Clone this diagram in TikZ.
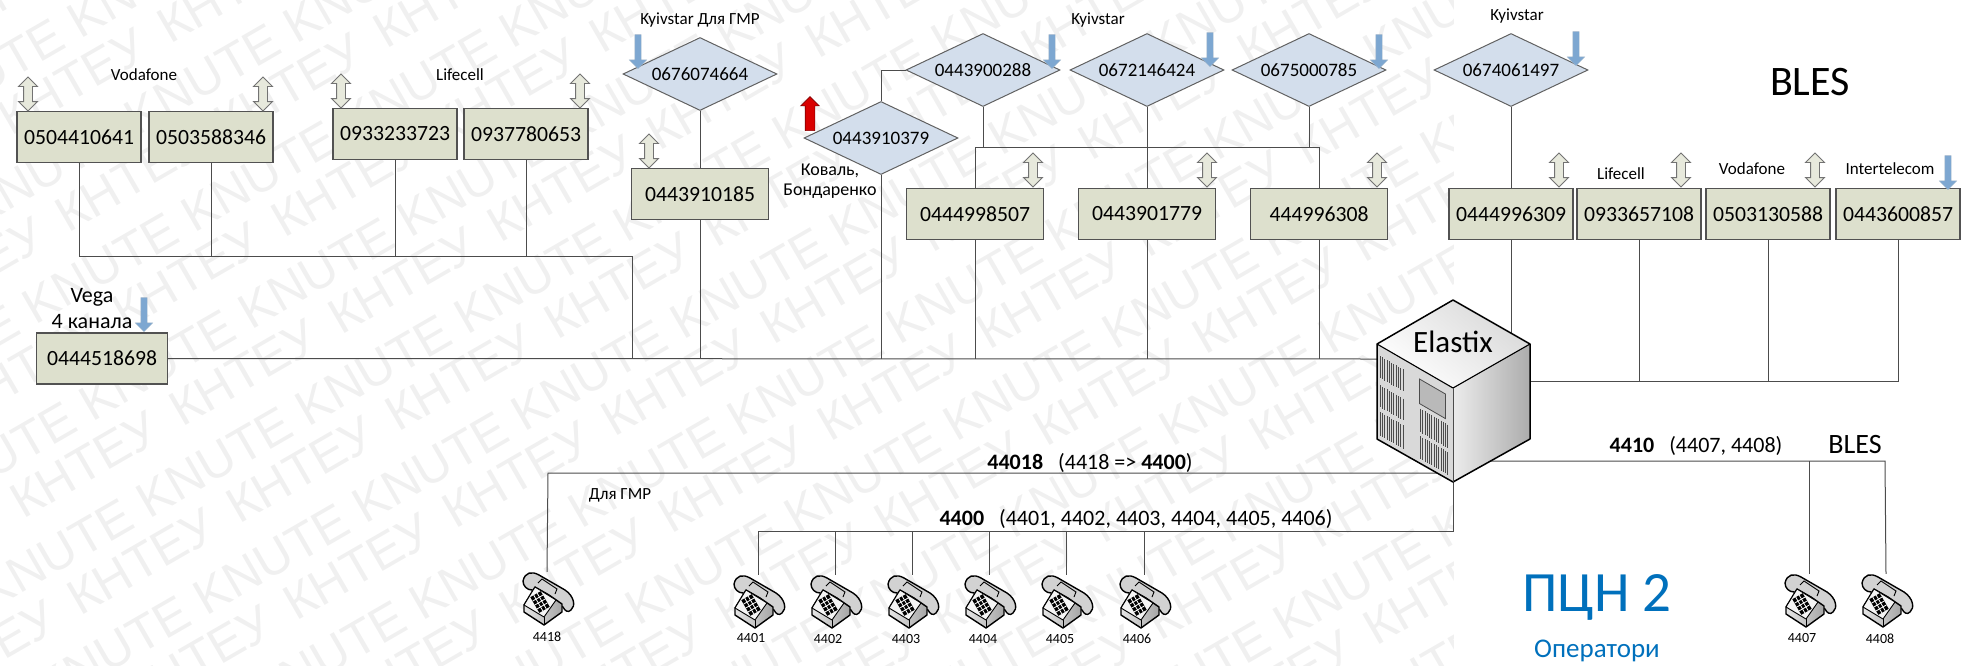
\documentclass[tikz,border=0pt]{standalone}
\usepackage{fontspec}
\setmainfont{Carlito}
\newfontfamily\wmfont{Liberation Sans}
\usetikzlibrary{shapes.geometric, shapes.arrows}
\definecolor{box_colour}{RGB}{221, 224, 205}
\definecolor{dia_colour}{RGB}{211, 222, 236}
\definecolor{down_colour}{RGB}{125, 167, 209}
\definecolor{pcn_colour}{RGB}{0, 112, 188}

\tikzset{
  phone/.pic={
    \draw[fill=gray!35, line width=1.4pt, line join=round] (-24,-17) .. controls (-22,-26) and (-15,-27) .. (-8,-23)
      -- (18,-8) .. controls (27,-2) and (29,8) .. (24,12) .. controls (21,15) and (18,13) .. (16,9)
      -- (-15,-8) .. controls (-20,-8) and (-24,-12) .. (-24,-17) -- cycle;
    \shade[left color=gray!20, right color=gray!70] (-3,27) -- (15,14) -- (15,6) -- (2,-3) -- (-23,7) -- (-23,14) -- cycle;
    \draw[line width=1.4pt, line join=round] (-12,-11) -- (-23,7) -- (-23,14) -- (-3,27) -- (15,14) -- (15,6) -- (2,-3) -- cycle;
    \draw[fill=gray!8, line width=.9pt, line join=round] (-12,-11) -- (-23,7) -- (-3,19) -- (9,2) -- cycle;
    \draw[line width=.7pt] (-3,19) -- (-3,27);
    \begin{scope}[shift={(-7,4)}, rotate=-60]
      \fill[black] (-9,-6) rectangle (9,6);
      \foreach \k in {-4.5,0,4.5} \draw[white, line width=.8pt] (\k,-6) -- (\k,6);
      \foreach \k in {-2,2} \draw[white, line width=.8pt] (-9,\k) -- (9,\k);
    \end{scope}
    \draw[line width=.9pt] (-9,-15) -- (-5,-19) -- (10,-9) -- (8,-4);
  }
}

\begin{document}
\begin{tikzpicture}[
    x=1pt, y=-1pt,
    every node/.style={font=\fontsize{17}{20}\selectfont, inner sep=0pt},
    box/.style={draw=black!68, line width=1.3pt, fill=box_colour,
                minimum width=124pt, minimum height=51pt,
                font=\fontsize{21.7}{24}\selectfont},
    dia/.style={diamond, draw=black!62, line width=1pt, fill=dia_colour,
                shape aspect=2.1, minimum width=154pt, minimum height=73pt,
                font=\fontsize{19}{21}\selectfont},
    bothway/.style={double arrow, draw=black!55, line width=.9pt, fill=box_colour!70,
                minimum height=34pt, inner sep=4pt, shape border rotate=90,
                double arrow head extend=5pt},
    downarr/.style={single arrow, fill=down_colour, draw=down_colour!80!black!60,
                minimum height=34pt, inner sep=3pt, shape border rotate=270,
                single arrow head extend=5.5pt},
    uparr/.style={single arrow, fill=red!85!black, draw=red!50!black, line width=.6pt,
                minimum height=34pt, inner sep=4.5pt, shape border rotate=90,
                single arrow head extend=4.5pt},
    wire/.style={draw=black!70, line width=1pt},
    big/.style={font=\fontsize{22}{24}\selectfont},
    ext/.style={font=\fontsize{14}{16}\selectfont},
    phonepos/.style={minimum size=52pt},
    wmark/.style={font=\wmfont\fontsize{50}{60}\selectfont, text=black!6, rotate=30, anchor=west},
]
\useasboundingbox (0,0) rectangle (1966,665);

% watermark stops at the cube's middle
\begin{scope}
\clip (0,0) rectangle (1453,665);
\foreach \i in {-5,...,8} \foreach \j in {-6,...,5} {
  \pgfmathsetmacro\wx{141+216*\i+57*\j}
  \pgfmathsetmacro\wy{505+5*\i+97*\j}
  \pgfmathparse{and(and(\wx>-170,\wx<1453),and(\wy>-10,\wy<755))?1:0}
  \ifnum\pgfmathresult=1
    \node[wmark] (wa\i\j) at (\wx,\wy) {KNUTE};
  \fi
  \pgfmathsetmacro\wx{15+216*\i+57*\j}
  \pgfmathparse{and(and(\wx>-170,\wx<1453),and(\wy>-10,\wy<755))?1:0}
  \ifnum\pgfmathresult=1
    \node[wmark] (wb\i\j) at (\wx,\wy) {КНТЕУ};
  \fi
}
\end{scope}

% cube corners and junctions
\coordinate (cubeT) at (1453,300);
\coordinate (cubeL) at (1377,344);
\coordinate (cubeR) at (1530,344);
\coordinate (cubeC) at (1453,388);
\coordinate (cubeB) at (1453,482);
\coordinate (cubeLB) at (1377,439);
\coordinate (cubeRB) at (1530,439);
\coordinate (mainend) at (1380,359);
\coordinate (busup) at (632,256);
\coordinate (busky) at (975,147);
\coordinate (buslow) at (1450,473);
\coordinate (busgmr) at (548,473);
\coordinate (busops) at (1453,531);
\coordinate (busles) at (1885,461);
\coordinate (busright) at (1898,381);

\node[box] (n0504) at (79,137) {0504410641};
\node[box] (n0503) at (211,137) {0503588346};
\node[box] (n0933a) at (395,134) {0933233723};
\node[box] (n0937) at (526,134) {0937780653};
\node[box, minimum width=131pt] (n0444v) at (102,358.5) {0444518698};
\node[box, minimum width=137pt] (n0185) at (700,194) {0443910185};
\node[box, minimum width=137pt] (n8507) at (975,214) {0444998507};
\node[box, minimum width=137pt] (n1779) at (1147,214) {0443901779};
\node[box, minimum width=137pt] (n6308) at (1319,214) {444996308};
\node[box] (n6309) at (1511,214) {0444996309};
\node[box] (n7108) at (1639,214) {0933657108};
\node[box] (n0588) at (1768,214) {0503130588};
\node[box] (n0857) at (1898,214) {0443600857};

\node[dia] (d4664) at (700,74) {0676074664};
\node[dia] (d0288) at (983,70) {0443900288};
\node[dia] (d6424) at (1147,70) {0672146424};
\node[dia] (d0785) at (1309,70) {0675000785};
\node[dia] (d1497) at (1511,70) {0674061497};
\node[dia] (d0379) at (881,138) {0443910379};

\node[phonepos] (p4418) at (547,598) {};
\node[phonepos] (p4401) at (758,601) {};
\node[phonepos] (p4402) at (835,601) {};
\node[phonepos] (p4403) at (912,601) {};
\node[phonepos] (p4404) at (989,601) {};
\node[phonepos] (p4405) at (1066,601) {};
\node[phonepos] (p4406) at (1144,601) {};
\node[phonepos] (p4407) at (1809,600) {};
\node[phonepos] (p4408) at (1886,600) {};

\draw[wire] (n0444v) -- (mainend);
\draw[wire] (n0504.south) |- (busup) -- (busup |- mainend);
\draw[wire] (n0503.south) -- (n0503.south |- busup);
\draw[wire] (n0933a.south) -- (n0933a.south |- busup);
\draw[wire] (n0937.south) -- (n0937.south |- busup);
\draw[wire] (d4664) -- (n0185);
\draw[wire] (n0185) -- (n0185 |- mainend);
\draw[wire] (d0288.west) -| (d0379.north);
\draw[wire] (d0379.south) -- (d0379.south |- mainend);
\draw[wire] (d0288.south) -- (d0288.south |- busky);
\draw[wire] (n8507.north) |- (busky) -- (n6308.north |- busky) -- (n6308.north);
\draw[wire] (d6424) -- (n1779);
\draw[wire] (d0785.south) -- (d0785.south |- busky);
\draw[wire] (n8507) -- (n8507 |- mainend);
\draw[wire] (n1779) -- (n1779 |- mainend);
\draw[wire] (n6308) -- (n6308 |- mainend);
\draw[wire] (d1497) -- (n6309);
\draw[wire] (n6309.south) -- (cubeC -| n6309.south);
\draw[wire] (n0857.south) |- (cubeC |- busright);
\draw[wire] (n7108.south) -- (n7108.south |- busright);
\draw[wire] (n0588.south) -- (n0588.south |- busright);
\draw[wire] (buslow) -- (busgmr) -- (p4418.north);
\draw[wire] (cubeB) -- (busops) -- (p4401.north |- busops) -- (p4401.north);
\draw[wire] (p4402.north) -- (p4402.north |- busops);
\draw[wire] (p4403.north) -- (p4403.north |- busops);
\draw[wire] (p4404.north) -- (p4404.north |- busops);
\draw[wire] (p4405.north) -- (p4405.north |- busops);
\draw[wire] (p4406.north) -- (p4406.north |- busops);
\draw[wire] (cubeB |- busles) -- (busles) -- (p4408.north);
\draw[wire] (p4407.north) -- (p4407.north |- busles);

% server
\shade[top color=gray!30, bottom color=white, shading angle=-40] (cubeT) -- (cubeR) -- (cubeC) -- (cubeL) -- cycle;
\fill[gray!30] (cubeL) -- (cubeC) -- (cubeB) -- (cubeLB) -- cycle;
\shade[left color=gray!15, right color=gray!65] (cubeC) -- (cubeR) -- (cubeRB) -- (cubeB) -- cycle;
\begin{scope}[shift={(cubeL)}, x={(76pt,-44pt)}, y={(0pt,-94.5pt)}]
  \foreach \u in {.04,.07,...,.37} {
    \draw[black!70, line width=.7pt] (\u,.11) -- (\u,.34);
    \draw[black!70, line width=.7pt] (\u,.42) -- (\u,.65);
    \draw[black!70, line width=.7pt] (\u,.70) -- (\u,.95);
  }
  \foreach \u in {.57,.60,...,.93} {
    \draw[black!70, line width=.7pt] (\u,.42) -- (\u,.67);
    \draw[black!70, line width=.7pt] (\u,.71) -- (\u,.95);
  }
  \draw[fill=gray!55, draw=black!70, line width=.8pt] (.56,.11) -- (.9,.11) -- (.9,.37) -- (.56,.37) -- cycle;
\end{scope}
\draw[line width=1.5pt, line join=round] (cubeT) -- (cubeR) -- (cubeRB) -- (cubeB) -- (cubeLB) -- (cubeL) -- cycle;
\draw[line width=1.1pt, line join=round] (cubeL) -- (cubeC) -- (cubeR);
\draw[black!70, line width=.8pt] (cubeC) -- (cubeB);
\node[font=\fontsize{31}{34}\selectfont] (elastix) at (1453,342) {Elastix};

\pic at (p4418) {phone};
\pic at (p4401) {phone};
\pic at (p4402) {phone};
\pic at (p4403) {phone};
\pic at (p4404) {phone};
\pic at (p4405) {phone};
\pic at (p4406) {phone};
\pic at (p4407) {phone};
\pic at (p4408) {phone};

\node[bothway] (ud1) at (28,94) {};
\node[bothway] (ud2) at (263,94) {};
\node[bothway] (ud3) at (341,91) {};
\node[bothway] (ud4) at (580,91) {};
\node[bothway] (ud5) at (649,151) {};
\node[bothway] (ud6) at (1033,170) {};
\node[bothway] (ud7) at (1207,170) {};
\node[bothway] (ud8) at (1377,170) {};
\node[bothway] (ud9) at (1559,170) {};
\node[bothway] (ud10) at (1681,170) {};
\node[bothway] (ud11) at (1815,170) {};

\node[downarr] (dn1) at (144,313) {};
\node[downarr] (dn2) at (638,50) {};
\node[downarr] (dn3) at (1052,50) {};
\node[downarr] (dn4) at (1210,48) {};
\node[downarr] (dn5) at (1379,50) {};
\node[downarr] (dn6) at (1576,47) {};
\node[downarr] (dn7) at (1948,171) {};
\node[uparr] (up1) at (810,116) {};

\node (lvoda) at (144,75) {Vodafone};
\node (llife) at (460,75) {Lifecell};
\node (lgmr) at (700,20) {Kyivstar Для ГМР};
\node (lky) at (1098,20) {Kyivstar};
\node (lky2) at (1517,16) {Kyivstar};
\node[align=center, font=\fontsize{18}{20}\selectfont] (lkov) at (830,181) {Коваль,\\Бондаренко};
\node[big, align=center] (lvega) at (92,309) {Vega\\[2pt]4 канала};
\node (llife2) at (1621,174) {Lifecell};
\node (lvoda2) at (1752,169) {Vodafone};
\node (linter) at (1890,169) {Intertelecom};
\node[font=\fontsize{42}{46}\selectfont] (lbles) at (1810,82) {BLES};
\node[big] (l44018) at (1090,463) {\textbf{44018}\hspace{15pt}(4418 => \textbf{4400})};
\node[big] (l4400) at (1136,519) {\textbf{4400}\hspace{15pt}(4401, 4402, 4403, 4404, 4405, 4406)};
\node[big] (l4410) at (1696,446) {\textbf{4410}\hspace{15pt}(4407, 4408)};
\node[font=\fontsize{28}{30}\selectfont] (lbles2) at (1855,445) {BLES};
\node (lgmr2) at (620,495) {Для ГМР};

\node[ext] (t4418) at (547,637) {4418};
\node[ext] (t4401) at (751,638) {4401};
\node[ext] (t4402) at (828,639) {4402};
\node[ext] (t4403) at (906,639) {4403};
\node[ext] (t4404) at (983,639) {4404};
\node[ext] (t4405) at (1060,639) {4405};
\node[ext] (t4406) at (1137,639) {4406};
\node[ext] (t4407) at (1802,638) {4407};
\node[ext] (t4408) at (1880,639) {4408};

\node[font=\fontsize{57}{60}\selectfont, text=pcn_colour] (lpcn) at (1597,597) {ПЦН 2};
\node[font=\fontsize{27}{30}\selectfont, text=pcn_colour] (lops) at (1597,651) {Оператори};
\end{tikzpicture}
\end{document}
